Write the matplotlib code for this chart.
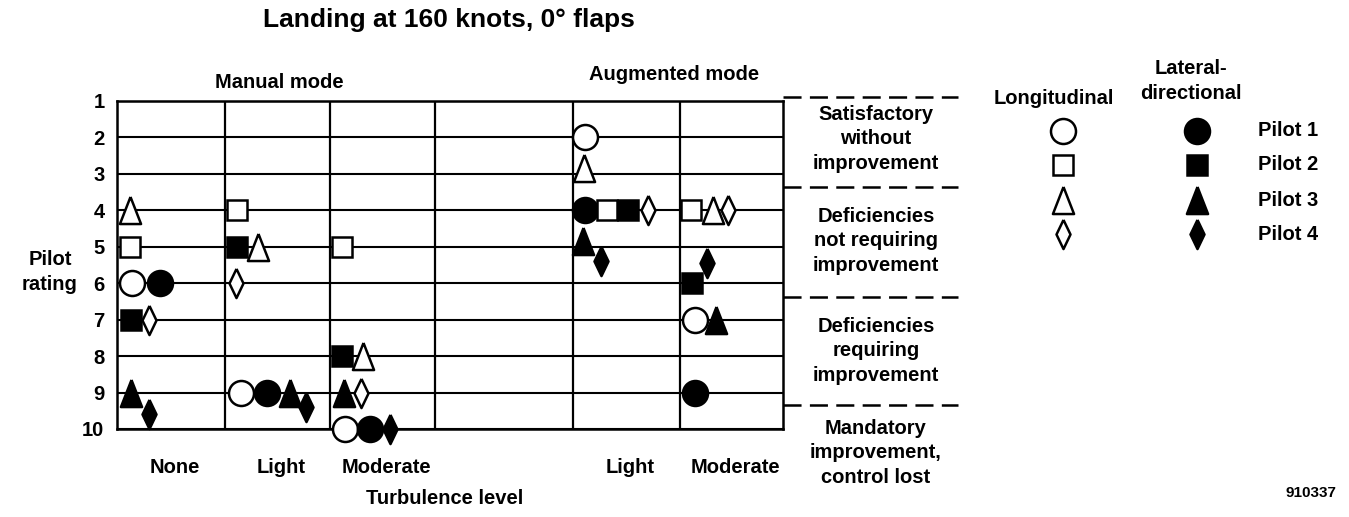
import matplotlib.pyplot as plt

plt.rcParams['font.family'] = ['Liberation Sans', 'DejaVu Sans']
plt.rcParams['font.weight'] = 'bold'
plt.rcParams['lines.scale_dashes'] = False

# turbulence conditions: manual (none, light, moderate), augmented (light, moderate)
conditions = ["None", "Light", "Moderate", "Light", "Moderate"]
rating_ticks = [1, 2, 3, 4, 5, 6, 7, 8, 9, 10]

# pilot ratings, one value per condition (long = longitudinal, lat = lateral-directional)
p1_long = [6, 9, 10, 2, 7]
p1_lat = [6, 9, 10, 4, 9]
p2_long = [5, 4, 5, 4, 4]
p2_lat = [7, 5, 8, 4, 6]
p3_long = [4, 5, 8, 2.85, 4]
p3_lat = [9, 9, 9, 4.85, 7]
p4_long = [7, 6, 9, 4, 4]
p4_lat = [9.6, 9.4, 10, 5.4, 5.45]

pilot_names = ["Pilot 1", "Pilot 2", "Pilot 3", "Pilot 4"]
regions = ["Satisfactory\nwithout\nimprovement",
           "Deficiencies\nnot requiring\nimprovement",
           "Deficiencies\nrequiring\nimprovement",
           "Mandatory\nimprovement,\ncontrol lost"]

# ---- layout (pixel units inside the plot box) ----
col_left = [0, 108, 213, 456, 563]
col_right = [108, 213, 318, 563, 666]
grid_x = [108, 213, 318, 456, 563]
# horizontal placement of each symbol inside its column
p1_long_dx = [15, 16, 15, 12, 15]
p1_lat_dx = [43, 42, 40, 12, 15]
p2_long_dx = [13, 12, 12, 34, 11]
p2_lat_dx = [14, 12, 12, 55, 12]
p3_long_dx = [13, 33, 33, 11, 33]
p3_lat_dx = [14, 65, 14, 10, 36]
p4_long_dx = [32, 11, 31, 75, 48]
p4_lat_dx = [32, 81, 60, 28, 27]

tri = [(0, 1), (0.78, -1), (-0.78, -1), (0, 1)]
dia = [(0, 1), (0.48, 0), (0, -1), (-0.48, 0), (0, 1)]
mk = {1: ('o', 18), 2: ('s', 14.5), 3: (tri, 19.5), 4: (dia, 21)}

W, H = 1349, 517
fig = plt.figure(figsize=(W / 100, H / 100), dpi=100)

# overlay in pixel coordinates for labels and legend
ax0 = fig.add_axes([0, 0, 1, 1])
ax0.set_xlim(0, W)
ax0.set_ylim(H, 0)
ax0.axis('off')

top, bot, left, right = 101, 429, 117, 783
ax = fig.add_axes([left / W, 1 - bot / H, (right - left) / W, (bot - top) / H])
ax.set_xlim(0, right - left)
ax.set_ylim(10, 1)
for s in ax.spines.values():
    s.set_linewidth(1.8)
ax.set_yticks(rating_ticks)
ax.set_yticklabels([str(r) for r in rating_ticks])
ax.tick_params(axis='y', length=0, pad=9, labelsize=14.5)
ax.grid(axis='y', color='black', lw=1.5)
for gx in grid_x:
    ax.axvline(gx, color='black', lw=1.6)
centers = [(a + b) / 2 + 4 for a, b in zip(col_left, col_right)]
ax.set_xticks(centers)
ax.set_xticklabels(conditions)
ax.tick_params(axis='x', length=0, pad=21, labelsize=14.5)

series = [
    (p1_long, p1_long_dx, 1, 'white'), (p1_lat, p1_lat_dx, 1, 'black'),
    (p2_long, p2_long_dx, 2, 'white'), (p2_lat, p2_lat_dx, 2, 'black'),
    (p3_long, p3_long_dx, 3, 'white'), (p3_lat, p3_lat_dx, 3, 'black'),
    (p4_long, p4_long_dx, 4, 'white'), (p4_lat, p4_lat_dx, 4, 'black'),
]
for vals, dx, pilot, fc in series:
    xs = [c + d for c, d in zip(col_left, dx)]
    m, ms = mk[pilot]
    ax.plot(xs, vals, linestyle='none', marker=m, ms=ms, mfc=fc, mec='black',
            mew=1.8, clip_on=False, zorder=3)

# rating region brackets
for yb in [97, 187, 297, 405]:
    ax0.plot([right, 958], [yb, yb], color='black', lw=1.8, dashes=(13, 6))
for txt, yc in zip(regions, [139, 241, 351, 453]):
    ax0.text(876, yc, txt, ha='center', va='center', fontsize=14.5,
             linespacing=1.35)

# titles and axis labels
ax0.text(449, 20, "Landing at 160 knots, 0° flaps", ha='center', va='center',
         fontsize=19)
ax0.text(279, 83, "Manual mode", ha='center', va='center', fontsize=14.5)
ax0.text(674, 75, "Augmented mode", ha='center', va='center', fontsize=14.5)
ax0.text(50, 272, "Pilot\nrating", ha='center', va='center', fontsize=14.5,
         linespacing=1.4)
ax0.text(445, 498, "Turbulence level", ha='center', va='center', fontsize=14.5)
ax0.text(1311, 493, "910337", ha='center', va='center', fontsize=11)

# legend
ax0.text(1054, 98, "Longitudinal", ha='center', va='center', fontsize=14.5)
ax0.text(1191, 81, "Lateral-\ndirectional", ha='center', va='center',
         fontsize=14.5, linespacing=1.45)
leg_y = [131, 165, 200, 234]
for i, yy in enumerate(leg_y):
    m, ms = mk[i + 1]
    ax0.plot([1063], [yy], linestyle='none', marker=m, ms=ms, mfc='white',
             mec='black', mew=1.8)
    ax0.plot([1197], [yy], linestyle='none', marker=m, ms=ms, mfc='black',
             mec='black', mew=1.8)
    ax0.text(1258, yy, pilot_names[i], ha='left', va='center', fontsize=14.5)

fig.savefig('out.png', dpi=100)
